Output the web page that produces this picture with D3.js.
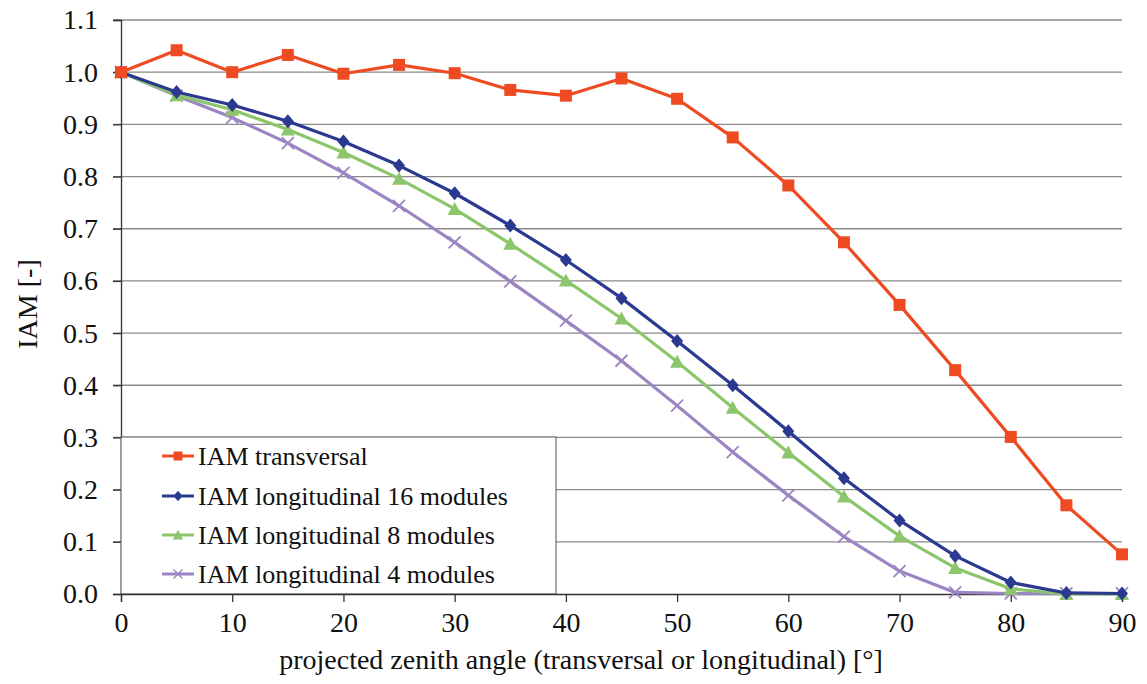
<!DOCTYPE html>
<html>
<head>
<meta charset="utf-8">
<script src="https://cdn.jsdelivr.net/npm/d3@7"></script>
<style>
  body { margin: 0; background: #fff; }
  text { font-family: "Liberation Serif", "Times New Roman", serif; fill: #111; }
</style>
</head>
<body>
<svg id="chart"></svg>
<script>
// angles in degrees
var angles = [0, 5, 10, 15, 20, 25, 30, 35, 40, 45, 50, 55, 60, 65, 70, 75, 80, 85, 90];

var iamTransversal = [1.0, 1.042, 1.0, 1.033, 0.997, 1.014, 0.998, 0.966, 0.955, 0.988, 0.949, 0.875, 0.783, 0.674, 0.554, 0.429, 0.301, 0.170, 0.076];
var iamLong16 = [1.0, 0.962, 0.937, 0.906, 0.867, 0.821, 0.768, 0.706, 0.640, 0.567, 0.485, 0.400, 0.312, 0.222, 0.141, 0.073, 0.022, 0.002, 0.001];
var iamLong8 = [1.0, 0.956, 0.928, 0.890, 0.846, 0.796, 0.738, 0.671, 0.601, 0.528, 0.445, 0.357, 0.271, 0.187, 0.111, 0.050, 0.010, 0.0, 0.0];
var iamLong4 = [1.0, 0.955, 0.913, 0.864, 0.807, 0.744, 0.674, 0.599, 0.524, 0.447, 0.361, 0.272, 0.189, 0.110, 0.044, 0.003, 0.001, 0.001, 0.001];

var seriesNames = ["IAM transversal", "IAM longitudinal 16 modules", "IAM longitudinal 8 modules", "IAM longitudinal 4 modules"];
var seriesColors = ["#ef4b22", "#2b3990", "#8cc66a", "#9b85c2"];
var seriesMarkers = ["square", "diamond", "triangle", "cross"];

var xTicks = [0, 10, 20, 30, 40, 50, 60, 70, 80, 90];
var yTicks = [0, 0.1, 0.2, 0.3, 0.4, 0.5, 0.6, 0.7, 0.8, 0.9, 1.0, 1.1];

var svgWidth = 1147, svgHeight = 684;
var margin = { top: 20, right: 25, bottom: 90, left: 121 };
var width = svgWidth - margin.left - margin.right;
var height = svgHeight - margin.top - margin.bottom;

var svg = d3.select("#chart")
    .attr("width", svgWidth)
    .attr("height", svgHeight);

var g = svg.append("g")
    .attr("transform", "translate(" + margin.left + "," + margin.top + ")");

var x = d3.scaleLinear().domain([0, 90]).range([0, width]);
var y = d3.scaleLinear().domain([0, 1.1]).range([height, 0]);

// gridlines
g.append("g")
    .selectAll("line")
    .data(yTicks.slice(1))
    .enter()
    .append("line")
    .attr("x1", -8)
    .attr("x2", width)
    .attr("y1", function(d) { return y(d); })
    .attr("y2", function(d) { return y(d); })
    .attr("stroke", "#8a8a8a")
    .attr("stroke-width", 1.3);

// y axis
var yAxis = g.append("g")
    .call(d3.axisLeft(y).tickValues(yTicks).tickFormat(d3.format(".1f")).tickSize(8).tickPadding(15));
yAxis.select(".domain").attr("stroke", "#333").attr("stroke-width", 1.3);
yAxis.selectAll("line").attr("stroke", "#333").attr("stroke-width", 1.3);
yAxis.selectAll("text").style("font-size", "28px").attr("fill", "#111");

// legend box (white, covers grid)
var legend = g.append("g");
legend.append("rect")
    .attr("x", 0)
    .attr("y", 417)
    .attr("width", 435)
    .attr("height", height - 417)
    .attr("fill", "#fff")
    .attr("stroke", "#555")
    .attr("stroke-width", 1);

// x axis
var xAxis = g.append("g")
    .attr("transform", "translate(0," + height + ")")
    .call(d3.axisBottom(x).tickValues(xTicks).tickSize(8).tickPadding(10));
xAxis.select(".domain").attr("stroke", "#333").attr("stroke-width", 1.3);
xAxis.selectAll("line").attr("stroke", "#333").attr("stroke-width", 1.3);
xAxis.selectAll("text").style("font-size", "28px").attr("fill", "#111");

// axis titles
svg.append("text")
    .attr("x", 581)
    .attr("y", 669)
    .attr("text-anchor", "middle")
    .style("font-size", "28px")
    .text("projected zenith angle (transversal or longitudinal) [°]");

svg.append("text")
    .attr("transform", "translate(37,304) rotate(-90)")
    .attr("text-anchor", "middle")
    .style("font-size", "28px")
    .text("IAM [-]");

function drawMarker(sel, type, color) {
    if (type === "square") {
        sel.append("rect").attr("x", -6).attr("y", -6).attr("width", 12).attr("height", 12).attr("fill", color);
    } else if (type === "diamond") {
        sel.append("path").attr("d", "M0,-7L6,0L0,7L-6,0Z").attr("fill", color);
    } else if (type === "triangle") {
        sel.append("path").attr("d", "M0,-7L7,6L-7,6Z").attr("fill", color);
    } else {
        sel.append("path").attr("d", "M-6,-6L6,6M-6,6L6,-6").attr("stroke", color).attr("stroke-width", 1.8).attr("fill", "none");
    }
}

var allSeries = [iamTransversal, iamLong16, iamLong8, iamLong4];

var line = d3.line()
    .x(function(d, i) { return x(angles[i]); })
    .y(function(d) { return y(d); });

// draw back to front: purple, green, blue, red
[3, 2, 1, 0].forEach(function(s) {
    var values = allSeries[s];
    g.append("path")
        .datum(values)
        .attr("fill", "none")
        .attr("stroke", seriesColors[s])
        .attr("stroke-width", 3.2)
        .attr("stroke-linejoin", "round")
        .attr("d", line);

    g.append("g")
        .selectAll("g")
        .data(values)
        .enter()
        .append("g")
        .attr("transform", function(d, i) { return "translate(" + x(angles[i]) + "," + y(d) + ")"; })
        .each(function() { drawMarker(d3.select(this), seriesMarkers[s], seriesColors[s]); });
});

// legend entries
var rowY = [436, 476, 515, 554];
seriesNames.forEach(function(name, i) {
    var row = legend.append("g").attr("transform", "translate(0," + rowY[i] + ")");
    row.append("line")
        .attr("x1", 41).attr("x2", 73)
        .attr("y1", 0).attr("y2", 0)
        .attr("stroke", seriesColors[i])
        .attr("stroke-width", 3);
    var m = row.append("g").attr("transform", "translate(57,0) scale(0.75)");
    drawMarker(m, seriesMarkers[i], seriesColors[i]);
    row.append("text")
        .attr("x", 77)
        .attr("y", 9)
        .style("font-size", "26px")
        .text(name);
});
</script>
</body>
</html>
